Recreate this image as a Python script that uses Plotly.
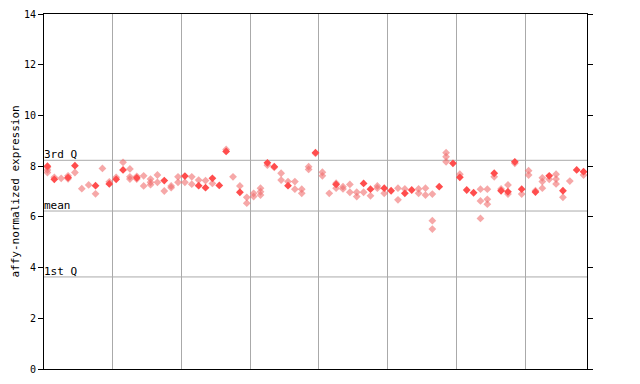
import plotly.graph_objects as go

# sample index (column) and values for solid (dark) points
solid_x = [0, 1, 3, 4, 7, 9, 10, 11, 13, 17, 20, 22, 23, 24, 25, 26, 28, 32, 33, 35, 39,
           42, 46, 47, 49, 50, 52, 53, 57, 59, 60, 61, 62, 65, 66, 67, 68, 69, 71, 73, 75, 77, 78]
solid_y = [8.0, 7.48, 7.55, 8.02, 7.23, 7.3, 7.48, 7.85, 7.54, 7.43, 7.61, 7.23, 7.15, 7.52, 7.24, 8.58, 6.97, 8.13, 7.98, 7.23, 8.53,
           7.28, 7.32, 7.09, 7.13, 7.03, 6.93, 7.06, 7.19, 8.11, 7.56, 7.06, 6.95, 7.72, 7.03, 6.99, 8.17, 7.09, 6.98, 7.62, 7.03, 7.85, 7.78]

# sample index and values for light (hatched) points
light_x = [0, 0, 0, 1, 2, 3, 3, 4, 5, 6, 7, 8, 9,
           10, 11, 12, 12, 12, 13, 13, 14, 14, 15, 15, 15, 16, 16, 17, 18, 18, 19, 19,
           20, 21, 21, 22, 23, 24, 26, 27, 28, 29, 29,
           30, 30, 31, 31, 31, 32, 33, 34, 34, 35, 36, 36, 37, 37, 38, 38, 39,
           40, 40, 41, 42, 42, 43, 43, 44, 44, 45, 45, 46, 47, 48, 48, 49,
           51, 51, 52, 54, 54, 55, 55, 56, 56, 56, 58, 58, 58,
           60, 63, 63, 63, 64, 64, 64, 65, 66, 67, 67, 68, 69,
           70, 70, 71, 72, 72, 72, 73, 74, 74, 74, 75, 76, 78]
light_y = [7.95, 7.85, 7.75, 7.56, 7.52, 7.62, 7.5, 7.75, 7.11, 7.26, 6.91, 7.91, 7.38,
           7.56, 8.15, 7.89, 7.58, 7.49, 7.6, 7.49, 7.62, 7.22, 7.49, 7.36, 7.27, 7.65, 7.36, 7.02, 7.22, 7.15, 7.58, 7.36,
           7.36, 7.58, 7.29, 7.45, 7.43, 7.32, 8.66, 7.58, 7.22, 6.77, 6.54,
           6.93, 6.8, 7.13, 6.99, 6.86, 8.04, 7.95, 7.72, 7.45, 7.39, 7.39, 7.09, 7.09, 6.93, 7.98, 7.87, 8.5,
           7.76, 7.62, 6.93, 7.33, 7.13, 7.19, 7.1, 7.28, 6.97, 6.97, 6.8, 6.97, 6.83, 7.22, 7.13, 6.93,
           7.13, 6.67, 7.1, 7.1, 6.93, 7.13, 6.86, 6.9, 5.85, 5.52, 8.53, 8.37, 8.17,
           7.68, 7.09, 6.63, 5.94, 7.09, 6.69, 6.5, 7.58, 7.1, 7.26, 6.9, 8.11, 6.9,
           7.82, 7.65, 7.03, 7.54, 7.39, 7.13, 7.48, 7.68, 7.49, 7.3, 6.77, 7.41, 7.65]

n_samples = 79
group_bounds = [9.5, 19.5, 29.5, 39.5, 49.5, 59.5, 69.5]
q3_value = 8.23
mean_value = 6.23
q1_value = 3.63
y_ticks = [0, 2, 4, 6, 8, 10, 12, 14]

mono = "DejaVu Sans Mono"

fig = go.Figure()
fig.add_trace(go.Scatter(x=light_x, y=light_y, mode="markers",
                         marker=dict(symbol="diamond", size=6, color="rgba(240,110,110,0.6)",
                                     line=dict(width=0)),
                         hoverinfo="x+y", showlegend=False))
fig.add_trace(go.Scatter(x=solid_x, y=solid_y, mode="markers",
                         marker=dict(symbol="diamond", size=6, color="#ff4d4d",
                                     line=dict(width=0)),
                         hoverinfo="x+y", showlegend=False))

for val, label in [(q3_value, "3rd Q"), (mean_value, "mean"), (q1_value, "1st Q")]:
    fig.add_shape(type="line", xref="paper", x0=0, x1=1, yref="y", y0=val, y1=val,
                  line=dict(color="#aaaaaa", width=1), layer="below")
    fig.add_annotation(x=0, xref="paper", y=val, yref="y", text=label, showarrow=False,
                       xanchor="left", yanchor="bottom", xshift=-2, yshift=-3,
                       font=dict(family=mono, size=11, color="black"))

fig.add_annotation(x=0, xref="paper", xshift=-29, y=0.5, yref="paper", text="affy-normalized expression",
                   textangle=-90, showarrow=False, xanchor="center", yanchor="middle",
                   font=dict(family=mono, size=11, color="black"))

# the page body has an 8px default margin, so the figure margins are reduced by 8px on the top/left
fig.update_layout(
    width=640, height=384,
    margin=dict(l=36, r=61, t=6, b=23),
    paper_bgcolor="white", plot_bgcolor="white",
    font=dict(family=mono, size=10, color="black"),
    xaxis=dict(range=[-0.5, n_samples - 0.5], tickvals=group_bounds, showticklabels=False,
               ticks="", showgrid=True, gridcolor="#aaaaaa", gridwidth=1, automargin=False,
               showline=True, linecolor="black", linewidth=1, mirror=True, zeroline=False),
    yaxis=dict(range=[0, 14], tickvals=y_ticks, ticks="outside", ticklen=5, tickcolor="black",
               showgrid=False, showline=True, linecolor="black", linewidth=1, mirror="ticks",
               zeroline=False, tickfont=dict(family=mono, size=10), automargin=False),
)

fig.write_html("out.html")
